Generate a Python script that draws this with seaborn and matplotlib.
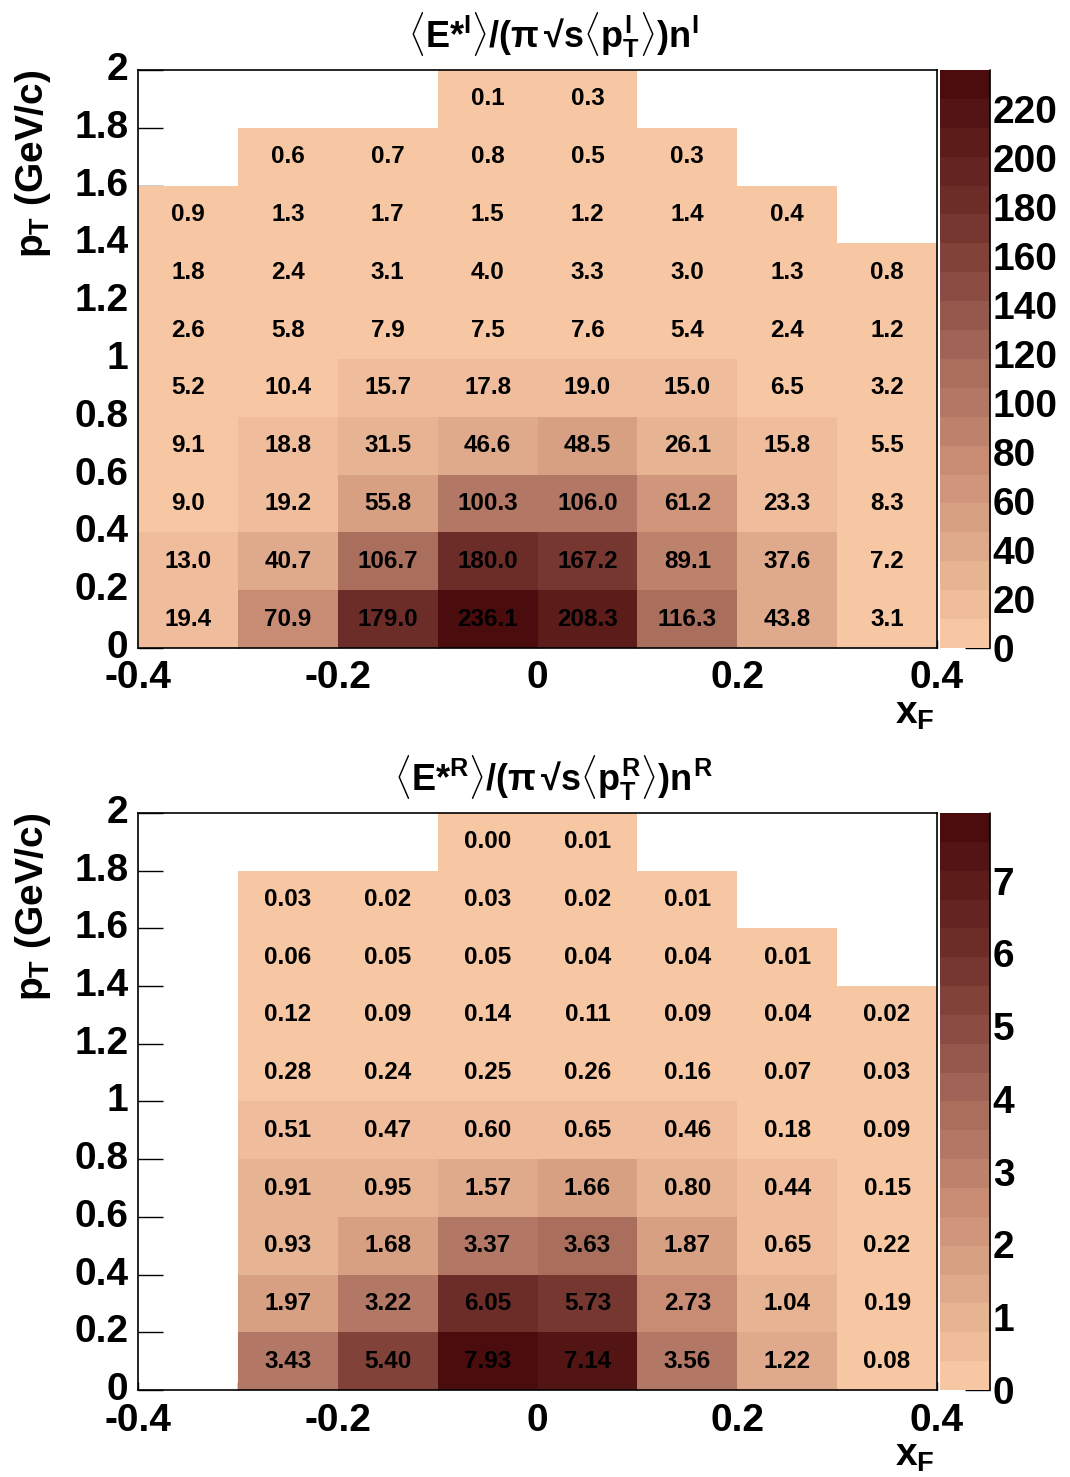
import numpy as np
import pandas as pd
import matplotlib
matplotlib.use("Agg")
import matplotlib.pyplot as plt
from matplotlib.colors import LinearSegmentedColormap, ListedColormap
import seaborn as sns

nan = np.nan

# bin edges (xF columns, pT rows)
x_edges = [-0.4, -0.3, -0.2, -0.1, 0.0, 0.1, 0.2, 0.3, 0.4]
pt_edges = [0.0, 0.2, 0.4, 0.6, 0.8, 1.0, 1.2, 1.4, 1.6, 1.8, 2.0]

# rows go from pT = 0-0.2 (first) up to 1.8-2.0 (last)
top_vals = [
    [19.4, 70.9, 179.0, 236.1, 208.3, 116.3, 43.8, 3.1],
    [13.0, 40.7, 106.7, 180.0, 167.2, 89.1, 37.6, 7.2],
    [9.0, 19.2, 55.8, 100.3, 106.0, 61.2, 23.3, 8.3],
    [9.1, 18.8, 31.5, 46.6, 48.5, 26.1, 15.8, 5.5],
    [5.2, 10.4, 15.7, 17.8, 19.0, 15.0, 6.5, 3.2],
    [2.6, 5.8, 7.9, 7.5, 7.6, 5.4, 2.4, 1.2],
    [1.8, 2.4, 3.1, 4.0, 3.3, 3.0, 1.3, 0.8],
    [0.9, 1.3, 1.7, 1.5, 1.2, 1.4, 0.4, nan],
    [nan, 0.6, 0.7, 0.8, 0.5, 0.3, nan, nan],
    [nan, nan, nan, 0.1, 0.3, nan, nan, nan],
]

bot_vals = [
    [nan, 3.43, 5.40, 7.93, 7.14, 3.56, 1.22, 0.08],
    [nan, 1.97, 3.22, 6.05, 5.73, 2.73, 1.04, 0.19],
    [nan, 0.93, 1.68, 3.37, 3.63, 1.87, 0.65, 0.22],
    [nan, 0.91, 0.95, 1.57, 1.66, 0.80, 0.44, 0.15],
    [nan, 0.51, 0.47, 0.60, 0.65, 0.46, 0.18, 0.09],
    [nan, 0.28, 0.24, 0.25, 0.26, 0.16, 0.07, 0.03],
    [nan, 0.12, 0.09, 0.14, 0.11, 0.09, 0.04, 0.02],
    [nan, 0.06, 0.05, 0.05, 0.04, 0.04, 0.01, nan],
    [nan, 0.03, 0.02, 0.03, 0.02, 0.01, nan, nan],
    [nan, nan, nan, 0.00, 0.01, nan, nan, nan],
]

x_ticks = [-0.4, -0.2, 0.0, 0.2, 0.4]
x_ticklabels = ["-0.4", "-0.2", "0", "0.2", "0.4"]
y_ticks = [0.0, 0.2, 0.4, 0.6, 0.8, 1.0, 1.2, 1.4, 1.6, 1.8, 2.0]
y_ticklabels = ["0", "0.2", "0.4", "0.6", "0.8", "1", "1.2", "1.4", "1.6", "1.8", "2"]
top_cbar_ticks = [0, 20, 40, 60, 80, 100, 120, 140, 160, 180, 200, 220]
bot_cbar_ticks = [0, 1, 2, 3, 4, 5, 6, 7]

top_title = "$\\langle E{*}^{I}\\rangle/(\\pi\\,$\u221a$s\\langle p^{I}_{T}\\rangle)n^{I}$"
bot_title = "$\\langle E{*}^{R}\\rangle/(\\pi\\,$\u221a$s\\langle p^{R}_{T}\\rangle)n^{R}$"

sns.set_style("white")
plt.rcParams["font.family"] = ["Liberation Sans", "DejaVu Sans"]
plt.rcParams["font.weight"] = "bold"
plt.rcParams["axes.labelweight"] = "bold"
plt.rcParams["axes.titleweight"] = "bold"
plt.rcParams["text.color"] = "black"
plt.rcParams["axes.labelcolor"] = "black"
plt.rcParams["xtick.color"] = "black"
plt.rcParams["ytick.color"] = "black"
plt.rcParams["mathtext.fontset"] = "custom"
plt.rcParams["mathtext.rm"] = "Liberation Sans:bold"
plt.rcParams["mathtext.it"] = "Liberation Sans:bold"
plt.rcParams["mathtext.bf"] = "Liberation Sans:bold"
plt.rcParams["mathtext.sf"] = "Liberation Sans:bold"

# ROOT-like 20 level palette, peach -> dark maroon
anchors = [(0.0, "#f7c7a3"), (0.3, "#c98f75"), (0.5, "#a5695a"),
           (0.75, "#73342e"), (1.0, "#4b0c0d")]
smooth = LinearSegmentedColormap.from_list("peach", anchors)
cmap = ListedColormap(smooth(np.linspace(0, 1, 20)))

dx = x_edges[1] - x_edges[0]
dy = pt_edges[1] - pt_edges[0]


def xpos(v):
    return (np.asarray(v) - x_edges[0]) / dx


def ypos(v):
    return (np.asarray(v) - pt_edges[0]) / dy


def draw_panel(ax, cax, vals, fmt, cbar_ticks, title):
    df = pd.DataFrame(vals)
    vmax = np.nanmax(df.values)
    sns.heatmap(df, ax=ax, cbar_ax=cax, cmap=cmap, vmin=0, vmax=vmax,
                annot=True, fmt=fmt, linewidths=0,
                annot_kws={"color": "black", "fontsize": 17.5, "fontweight": "bold"})
    ax.set_ylim(0, len(pt_edges) - 1)
    ax.set_xlim(0, len(x_edges) - 1)
    for s in ax.spines.values():
        s.set_visible(True)
        s.set_color("black")
        s.set_linewidth(1.2)

    ax.set_xticks(xpos(x_ticks))
    ax.set_xticklabels(x_ticklabels, rotation=0)
    ax.set_xticks(xpos(x_edges), minor=True)
    ax.set_yticks(ypos(y_ticks))
    ax.set_yticklabels(y_ticklabels, rotation=0)
    ax.tick_params(axis="both", which="both", direction="in", top=False, right=False,
                   bottom=True, left=True, color="black", width=1)
    ax.tick_params(axis="x", which="both", length=6, labelsize=28, pad=9)
    ax.tick_params(axis="y", which="major", length=18, labelsize=28, pad=7)

    ax.set_xlabel(r"$x_F$", fontsize=28, loc="right")
    ax.xaxis.set_label_coords(0.997, -0.083)
    ax.set_ylabel(r"$p_T$ (GeV/c)", fontsize=28, loc="top")
    ax.yaxis.set_label_coords(-0.107, 1.0)
    ax.set_title(title, fontsize=26, pad=16, x=0.52)

    cbar = ax.collections[0].colorbar
    cbar.outline.set_visible(False)
    cbar.set_ticks(cbar_ticks)
    cbar.set_ticklabels([str(t) for t in cbar_ticks])
    cax.tick_params(direction="in", length=18, width=1, labelsize=28, pad=2, color="black")
    cax.plot([1, 1], [0, 1], transform=cax.transAxes, color="black", lw=1.2, clip_on=False)


fig = plt.figure(figsize=(10.7, 14.77), dpi=100)
ax_top = fig.add_axes([0.129, 0.5613, 0.7467, 0.3913])
cax_top = fig.add_axes([0.8785, 0.5613, 0.0467, 0.3913])
ax_bot = fig.add_axes([0.129, 0.0589, 0.7467, 0.3907])
cax_bot = fig.add_axes([0.8785, 0.0589, 0.0467, 0.3907])

draw_panel(ax_top, cax_top, top_vals, ".1f", top_cbar_ticks, top_title)
draw_panel(ax_bot, cax_bot, bot_vals, ".2f", bot_cbar_ticks, bot_title)

plt.savefig("out.png", dpi=100)
